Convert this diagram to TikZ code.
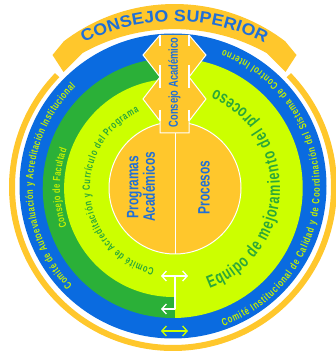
\documentclass[tikz,border=0pt]{standalone}
\usepackage{fontspec}
\usetikzlibrary{decorations.text,arrows.meta}
\newfontfamily\condf[FakeStretch=0.72]{Liberation Sans Bold}
\newfontfamily\widef[FakeStretch=1.08]{Liberation Sans Bold}
\definecolor{cblue}{HTML}{0A6BE0}
\definecolor{cgreen}{HTML}{2BB038}
\definecolor{clime}{HTML}{CCFF00}
\definecolor{corange}{HTML}{FFC72C}
\definecolor{tblue}{HTML}{1F6FD8}
\definecolor{tgreen}{HTML}{2BA838}
\definecolor{tlime}{HTML}{C4F000}
\tikzset{
  arctext/.style n args={2}{decorate,decoration={text along path,text={#1},text align={fit to path},#2}},
  mainlabel/.style={text=tblue,align=center,rotate=90,inner sep=0pt,font=\condf\fontsize{16.5}{15.5}\selectfont},
  barb/.tip={Straight Barb[length=4.5pt,width=10pt,line width=1.3pt]},
  whitearrow/.style={draw=white,line width=1.1pt,-barb},
  limearrow/.style={draw=clime,line width=1.1pt,barb-barb},
}
\begin{document}
\begin{tikzpicture}[x=1pt,y=1pt]
\useasboundingbox (0,0) rectangle (336,351);
\clip (0,0) rectangle (336,351);
% rings, centred at (173,188) in picture pixels
\begin{scope}[shift={(173,164)}]
  \draw[corange,line width=6pt] (136:161) arc[start angle=136,end angle=404,radius=161];
  \fill[cblue] (0,1) ellipse[x radius=153.5,y radius=152.5];
\end{scope}
\begin{scope}[shift={(173,163)}]
  \fill[cgreen] (2,130) arc[start angle=89,end angle=271,radius=130] -- cycle;
  \fill[clime] (2,-130) arc[start angle=-89,end angle=89,radius=130] -- cycle;
  \fill[clime] (2,109) arc[start angle=89,end angle=271,radius=109] -- cycle;
  \path[arctext={|\condf\fontsize{10.5}{10.5}\selectfont|Comité de Autoevaluación y Acreditación Institucional}{text color=tlime}]
    (224:140) arc[start angle=224,end angle=134,radius=140];
  \path[arctext={|\condf\fontsize{10.5}{10.5}\selectfont|Consejo de Facultad}{text color=tlime}]
    (200:113) arc[start angle=200,end angle=160,radius=113];
  \path[arctext={|\condf\fontsize{10.5}{10.5}\selectfont|Comité de Acreditación y Currículo del Programa}{text color=tgreen}]
    (257:83) arc[start angle=257,end angle=114,radius=83];
  \path[arctext={|\condf\fontsize{17.5}{17.5}\selectfont|Equipo de mejoramiento del proceso}{text color=tgreen}]
    (-70:107) arc[start angle=-70,end angle=67,radius=107];
  \path[arctext={|\condf\fontsize{10.5}{10.5}\selectfont|Comité Institucional de Calidad y de Coordinación del Sistema de Control Interno}{text color=tlime}]
    (-70:147) arc[start angle=-70,end angle=70,radius=147];
\end{scope}
% banner
\begin{scope}[shift={(174.5,164)}]
  \fill[corange] (127.2:183) arc[start angle=127.2,end angle=52.8,radius=183]
    -- (122,132) -- (111,115) -- (92,134)
    arc[start angle=60.9,end angle=119.1,radius=189]
    -- (-111,115) -- (-122,132) -- cycle;
  \path[arctext={|\widef\fontsize{16.5}{16.5}\selectfont|CONSEJO SUPERIOR}{text color=tblue}]
    (-90.5,144) arc[start angle=117,end angle=63,radius=199];
\end{scope}
% centre, in picture pixels
\begin{scope}[shift={(0,351)},yscale=-1]
  \fill[corange] (175,188) circle[radius=66];
  \draw[white,line width=1pt] (175,188) circle[radius=66];
  \draw[white,line width=1pt] (175,122) -- (175,254);
  \fill[corange] (160,35) -- (143,55) -- (160,77) -- (143,99) -- (160,121) -- (160,133)
     -- (189,133) -- (189,121) -- (206,99) -- (189,77) -- (206,55) -- (189,35) -- cycle;
  \draw[white,line width=1pt] (160,35) -- (143,55) -- (160,77) -- (143,99) -- (160,121) -- (160,133)
     -- (189,133) -- (189,121) -- (206,99) -- (189,77) -- (206,55) -- (189,35);
  \draw[white,line width=1.2pt] (160,35) -- (160,46) (160,65) -- (160,88) (160,110) -- (160,121)
     (189,35) -- (189,46) (189,65) -- (189,88) (189,110) -- (189,121);
  \coordinate (al) at (161,276);
  \coordinate (ar) at (188,276);
  \coordinate (am) at (175,276);
  \coordinate (bl) at (161,309);
  \coordinate (bm) at (175,309);
  \coordinate (cl) at (161,331);
  \coordinate (cr) at (188,331);
  \node[mainlabel,font=\condf\fontsize{13}{13}\selectfont] (ca) at (174.5,82.5) {Consejo Académico};
  \node[mainlabel] (pa) at (141,187) {Programas\\Académicos};
  \node[mainlabel] (pr) at (204,187.5) {Procesos};
\end{scope}
\draw[whitearrow] (am) -- (al);
\draw[whitearrow] (am) -- (ar);
\draw[white,line width=1.1pt,line cap=round] (am) -- (bm);
\draw[whitearrow] (bm) -- (bl);
\draw[limearrow] (cl) -- (cr);
\end{tikzpicture}
\end{document}
